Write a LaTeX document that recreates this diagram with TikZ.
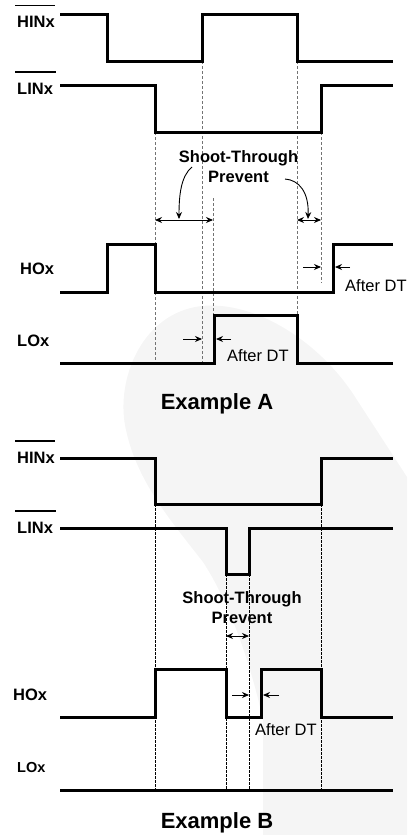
\documentclass[tikz,border=0pt]{standalone}
\usepackage{fontspec}
\setmainfont{Liberation Sans}
\usetikzlibrary{arrows.meta}
\begin{document}
\begin{tikzpicture}[x=1pt,y=-1pt,
  sig/.style={line width=3pt, line join=miter},
  lab/.style={font=\fontsize{16.5}{18}\selectfont\bfseries, inner sep=0pt, anchor=base west},
  bar/.style={line width=1.3pt},
  guideA/.style={black!55, line width=0.8pt, dash pattern=on 3pt off 2pt},
  guideB/.style={black, line width=0.7pt, dash pattern=on 2.5pt off 1.5pt},
  dim/.style={line width=0.9pt, {Stealth[length=7pt,width=6pt]}-{Stealth[length=7pt,width=6pt]}},
  dt/.style={line width=0.9pt, -{Stealth[length=7pt,width=6pt]}},
  note/.style={font=\fontsize{16.5}{20}\selectfont\bfseries, inner sep=0pt, anchor=base},
  dtl/.style={font=\fontsize{16.5}{18}\selectfont, inner sep=0pt, anchor=base west},
  titl/.style={font=\fontsize{22}{24}\selectfont\bfseries, inner sep=0pt, anchor=base},
  wm/.style={fill=black!4}
]
\useasboundingbox (0,0) rectangle (407,835);
% watermark
\fill[wm] (407,835) -- (263,835) -- (263,720)
  .. controls (250,660) and (228,600) .. (203,562)
  .. controls (172,522) and (135,480) .. (125,425)
  .. controls (117,380) and (140,318) .. (195,307)
  .. controls (250,297) and (320,340) .. (357,400)
  -- (407,477) -- cycle;

% ---------- Example A ----------
\node[lab] (hinA) at (17,27.5) {HINx};
\draw[bar] ([xshift=-2pt,yshift=10.5pt]hinA.north west) -- ([yshift=10.5pt]hinA.north east);
\node[lab] (linA) at (17,94) {LINx};
\draw[bar] ([xshift=-2pt,yshift=10.5pt]linA.north west) -- ([xshift=3pt,yshift=10.5pt]linA.north east);
\node[lab] (hoA) at (20,274) {HOx};
\node[lab] (loA) at (17,346.5) {LOx};

% guides A
\draw[guideA] (155,132) -- (155,363);
\draw[guideA] (202,61) -- (202,363);
\draw[guideA] (213,198) -- (213,315);
\draw[guideA] (297,61) -- (297,315);
\draw[guideA] (321,132) -- (321,283);

\draw[sig] (60,14) -- (107,14) -- (107,61) -- (202,61) -- (202,14) -- (297,14) -- (297,61) -- (393,61);
\draw[sig] (60,85) -- (155,85) -- (155,132) -- (321,132) -- (321,85) -- (393,85);
\draw[sig] (60,292) -- (107,292) -- (107,244) -- (155,244) -- (155,292) -- (333,292) -- (333,244) -- (393,244);
\draw[sig] (60,363) -- (214,363) -- (214,315) -- (297,315) -- (297,363) -- (393,363);

\node[note] (stA1) at (238.5,162.3) {Shoot-Through};
\node[note] (stA2) at (238.5,182.3) {Prevent};
\coordinate (dA1l) at (155,220);
\coordinate (dA1r) at (213,220);
\coordinate (dA2l) at (297,220);
\coordinate (dA2r) at (321,220);
\draw[dim] (dA1l) -- (dA1r);
\draw[dim] (dA2l) -- (dA2r);
\coordinate (cA1) at (192,167);
\coordinate (cA1e) at (179,219);
\coordinate (cA2) at (285,179);
\coordinate (cA2e) at (308,219);
\draw[dt] (cA1) .. controls (181,176) and (179,195) .. (cA1e);
\draw[dt] (cA2) .. controls (299,180) and (309,192) .. (cA2e);

\coordinate (aA1s) at (303,267); \coordinate (aA1e) at (321,267);
\coordinate (aA2s) at (350,267); \coordinate (aA2e) at (335,267);
\draw[dt] (aA1s) -- (aA1e);
\draw[dt] (aA2s) -- (aA2e);
\node[dtl] (dtA1) at (345,291) {After DT};

\coordinate (aA3s) at (183,339); \coordinate (aA3e) at (202,339);
\coordinate (aA4s) at (231,339); \coordinate (aA4e) at (216,339);
\draw[dt] (aA3s) -- (aA3e);
\draw[dt] (aA4s) -- (aA4e);
\node[dtl] (dtA2) at (227,361.5) {After DT};

\node[titl] (exA) at (217,409.3) {Example A};

% ---------- Example B ----------
\node[lab] (hinB) at (17,463) {HINx};
\draw[bar] ([xshift=-2pt,yshift=10.5pt]hinB.north west) -- ([yshift=10.5pt]hinB.north east);
\node[lab] (linB) at (17,533) {LINx};
\draw[bar] ([xshift=-2pt,yshift=10.5pt]linB.north west) -- ([xshift=3pt,yshift=10.5pt]linB.north east);
\node[lab] (hoB) at (13,700) {HOx};
\node[lab, font=\fontsize{14.5}{16}\selectfont\bfseries] (loB) at (17,772) {LOx};

\draw[guideB] (155,504) -- (155,790);
\draw[guideB] (321,504) -- (321,790);
\draw[guideB] (226,574) -- (226,790);
\draw[guideB] (249,574) -- (249,790);

\draw[sig] (60,458) -- (155,458) -- (155,504) -- (321,504) -- (321,458) -- (393,458);
\draw[sig] (60,528) -- (226,528) -- (226,574) -- (249,574) -- (249,528) -- (393,528);
\draw[sig] (60,717) -- (155,717) -- (155,669) -- (226,669) -- (226,717) -- (261,717) -- (261,669) -- (321,669) -- (321,717) -- (393,717);
\draw[sig] (60,790) -- (393,790);

\node[note] (stB1) at (242,603.3) {Shoot-Through};
\node[note] (stB2) at (242,623.3) {Prevent};
\coordinate (dBl) at (226,636); \coordinate (dBr) at (249,636);
\draw[dim] (dBl) -- (dBr);

\coordinate (aB1s) at (232,695); \coordinate (aB1e) at (249,695);
\coordinate (aB2s) at (279,695); \coordinate (aB2e) at (263,695);
\draw[dt] (aB1s) -- (aB1e);
\draw[dt] (aB2s) -- (aB2e);
\node[dtl] (dtB) at (255,735) {After DT};

\node[titl] (exB) at (217,828) {Example B};
\end{tikzpicture}
\end{document}
